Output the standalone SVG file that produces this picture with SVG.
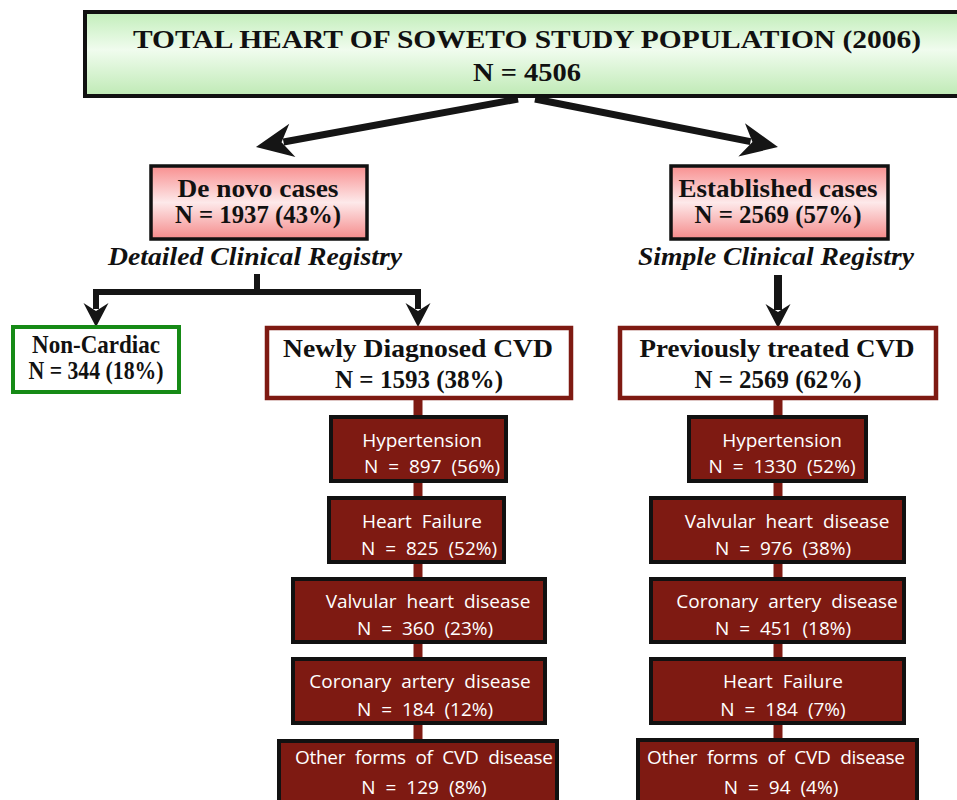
<svg xmlns="http://www.w3.org/2000/svg" width="957" height="800" viewBox="0 0 957 800">
<defs>
<linearGradient id="gGreen" x1="0" y1="0" x2="0" y2="1">
<stop offset="0" stop-color="#c2eeba"/><stop offset="0.45" stop-color="#f0fcee"/><stop offset="1" stop-color="#bfeab5"/>
</linearGradient>
<linearGradient id="gPink" x1="0" y1="0" x2="0" y2="1">
<stop offset="0" stop-color="#f88f8f"/><stop offset="0.5" stop-color="#fde9ea"/><stop offset="1" stop-color="#f58a8a"/>
</linearGradient>
<marker id="bigHead" markerUnits="userSpaceOnUse" markerWidth="50" markerHeight="40" viewBox="-10 -20 50 40" refX="0" refY="0" orient="auto">
<path d="M28,0 L-9,-17 L2,0 L-9,17 Z" fill="#151515"/>
</marker>
<marker id="smallHead" markerUnits="userSpaceOnUse" markerWidth="40" markerHeight="30" viewBox="-10 -15 40 30" refX="0" refY="0" orient="auto">
<path d="M18,0 L-6,-12.5 L2,0 L-6,12.5 Z" fill="#151515"/>
</marker>
</defs>
<style>
.serifB{font-family:"Liberation Serif","Times New Roman",serif;font-weight:bold;fill:#111;text-anchor:middle;font-size:25px}
.serifBI{font-family:"Liberation Serif","Times New Roman",serif;font-weight:bold;font-style:italic;fill:#111;text-anchor:middle;font-size:25px}
.sans{font-family:"Open Sans","Noto Sans",sans-serif;fill:#fff;text-anchor:middle;font-size:19px;word-spacing:5px}
.redbox{fill:#7e1a12;stroke:#111;stroke-width:4}
.spine{stroke:#7e1a12;stroke-width:9;fill:none}
.conn{stroke:#151515;fill:none}
</style>

<g id="connectors">
<line class="spine" x1="418" y1="398" x2="418" y2="800"/>
<line class="spine" x1="778" y1="398" x2="778" y2="800"/>
<line class="conn" stroke-width="7" x1="518" y1="99" x2="283.5" y2="142" marker-end="url(#bigHead)"/>
<line class="conn" stroke-width="7" x1="535" y1="99" x2="750.5" y2="141.6" marker-end="url(#bigHead)"/>
<polyline class="conn" stroke-width="6" points="257,274 257,292"/>
<polyline class="conn" stroke-width="6" points="96,309 96,292 418,292 418,309"/>
<line class="conn" stroke-width="6" x1="96" y1="300" x2="96" y2="309" marker-end="url(#smallHead)"/>
<line class="conn" stroke-width="6" x1="418" y1="300" x2="418" y2="309" marker-end="url(#smallHead)"/>
<line class="conn" stroke-width="8" x1="778" y1="275" x2="778" y2="310" marker-end="url(#smallHead)"/>
</g>

<g id="total">
<rect x="85" y="12" width="880" height="84" fill="url(#gGreen)" stroke="#111" stroke-width="4"/>
<text class="serifB" x="527" y="48" font-size="27" textLength="788" lengthAdjust="spacingAndGlyphs">TOTAL HEART OF SOWETO STUDY POPULATION (2006)</text>
<text class="serifB" x="527" y="81" font-size="27" textLength="108" lengthAdjust="spacingAndGlyphs">N = 4506</text>
</g>

<g id="denovo">
<rect x="151" y="166" width="216" height="73" fill="url(#gPink)" stroke="#111" stroke-width="3.5"/>
<text class="serifB" x="258" y="197" textLength="161" lengthAdjust="spacingAndGlyphs">De novo cases</text>
<text class="serifB" x="258" y="223" textLength="166" lengthAdjust="spacingAndGlyphs">N = 1937 (43%)</text>
</g>
<text class="serifBI" x="255" y="265" textLength="294" lengthAdjust="spacingAndGlyphs">Detailed Clinical Registry</text>

<g id="established">
<rect x="671" y="166" width="217" height="73" fill="url(#gPink)" stroke="#111" stroke-width="3.5"/>
<text class="serifB" x="778" y="197" textLength="199" lengthAdjust="spacingAndGlyphs">Established cases</text>
<text class="serifB" x="778" y="223" textLength="167" lengthAdjust="spacingAndGlyphs">N = 2569 (57%)</text>
</g>
<text class="serifBI" x="776" y="265" textLength="276" lengthAdjust="spacingAndGlyphs">Simple Clinical Registry</text>

<g id="noncardiac">
<rect x="13" y="327" width="166" height="65" fill="#fff" stroke="#168a16" stroke-width="4"/>
<text class="serifB" x="96" y="353" font-size="22" textLength="128" lengthAdjust="spacingAndGlyphs">Non-Cardiac</text>
<text class="serifB" x="96" y="379" font-size="22" textLength="135" lengthAdjust="spacingAndGlyphs">N = 344 (18%)</text>
</g>

<g id="newly">
<rect x="267" y="328" width="304" height="70" fill="#fff" stroke="#7e1a12" stroke-width="4.5"/>
<text class="serifB" x="418" y="357" textLength="270" lengthAdjust="spacingAndGlyphs">Newly Diagnosed CVD</text>
<text class="serifB" x="419" y="388" textLength="168" lengthAdjust="spacingAndGlyphs">N = 1593 (38%)</text>
</g>

<g id="previously">
<rect x="620" y="328" width="316" height="70" fill="#fff" stroke="#7e1a12" stroke-width="4.5"/>
<text class="serifB" x="777" y="357" textLength="275" lengthAdjust="spacingAndGlyphs">Previously treated CVD</text>
<text class="serifB" x="778" y="388" textLength="167" lengthAdjust="spacingAndGlyphs">N = 2569 (62%)</text>
</g>

<g id="n-hypertension">
<rect class="redbox" x="331" y="417" width="175" height="64"/>
<text class="sans" x="422" y="447">Hypertension</text>
<text class="sans" x="432" y="473">N = 897 (56%)</text>
</g>
<g id="n-heartfailure">
<rect class="redbox" x="329" y="498" width="175" height="64"/>
<text class="sans" x="422" y="528">Heart Failure</text>
<text class="sans" x="429" y="555">N = 825 (52%)</text>
</g>
<g id="n-valvular">
<rect class="redbox" x="293" y="579" width="252" height="63"/>
<text class="sans" x="428" y="608">Valvular heart disease</text>
<text class="sans" x="425" y="635">N = 360 (23%)</text>
</g>
<g id="n-coronary">
<rect class="redbox" x="293" y="659" width="252" height="64"/>
<text class="sans" x="420" y="688">Coronary artery disease</text>
<text class="sans" x="425" y="716">N = 184 (12%)</text>
</g>
<g id="n-other">
<rect class="redbox" x="279" y="741" width="278" height="70"/>
<text class="sans" x="424" y="764" textLength="258" lengthAdjust="spacing">Other forms of CVD disease</text>
<text class="sans" x="424" y="794">N = 129 (8%)</text>
</g>

<g id="p-hypertension">
<rect class="redbox" x="689" y="417" width="177" height="64"/>
<text class="sans" x="782" y="447">Hypertension</text>
<text class="sans" x="782" y="473">N = 1330 (52%)</text>
</g>
<g id="p-valvular">
<rect class="redbox" x="651" y="498" width="253" height="64"/>
<text class="sans" x="787" y="528">Valvular heart disease</text>
<text class="sans" x="783" y="555">N = 976 (38%)</text>
</g>
<g id="p-coronary">
<rect class="redbox" x="651" y="579" width="253" height="63"/>
<text class="sans" x="787" y="608">Coronary artery disease</text>
<text class="sans" x="783" y="635">N = 451 (18%)</text>
</g>
<g id="p-heartfailure">
<rect class="redbox" x="651" y="659" width="253" height="64"/>
<text class="sans" x="783" y="688">Heart Failure</text>
<text class="sans" x="783" y="716">N = 184 (7%)</text>
</g>
<g id="p-other">
<rect class="redbox" x="638" y="740" width="279" height="70"/>
<text class="sans" x="776" y="764" textLength="258" lengthAdjust="spacing">Other forms of CVD disease</text>
<text class="sans" x="781" y="794">N = 94 (4%)</text>
</g>
</svg>
